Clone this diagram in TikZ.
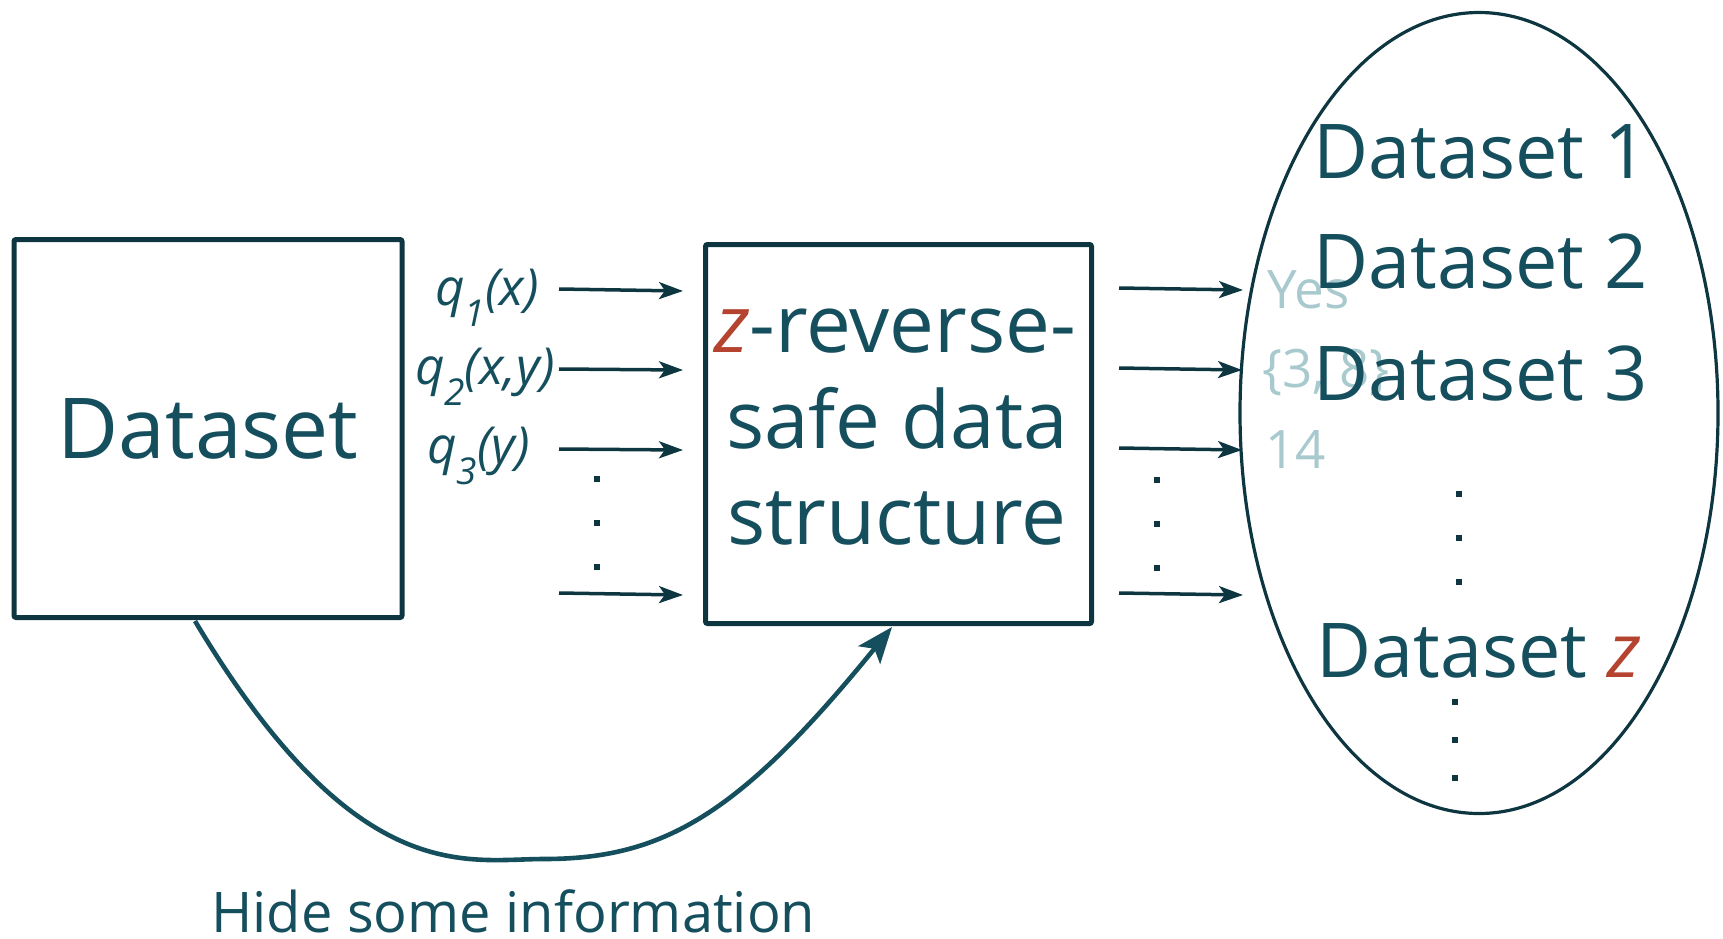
\documentclass[tikz,border=0pt]{standalone}
\usepackage{fontspec}
\setmainfont{Open Sans}
\usetikzlibrary{arrows.meta,shapes.geometric}

\definecolor{ink}{HTML}{154F5D}
\definecolor{rulec}{HTML}{0D3640}
\definecolor{accent}{HTML}{B4432F}
\definecolor{faded}{HTML}{A8C9CD}

% lowered index for the query names
\newcommand{\qidx}[1]{\raisebox{-10.5pt}{\fontsize{18.5}{18.5}\selectfont #1}}
\newcommand{\zvar}{\textcolor{accent}{\textit{z}}}

\begin{document}
\begin{tikzpicture}[x=0.5pt,y=-0.5pt,
  frame/.style={draw=rulec, line width=2.5pt, rounded corners=1pt, inner sep=0pt},
  bigtext/.style={text=ink, inner sep=0pt, font=\fontsize{42}{50}\selectfont},
  midtext/.style={text=ink, inner sep=0pt, anchor=base, font=\fontsize{40}{48}\selectfont},
  settext/.style={text=ink, inner sep=0pt, anchor=base west, font=\fontsize{37.8}{44}\selectfont},
  qlabel/.style={text=ink, inner sep=0pt, anchor=base east, font=\fontsize{25.5}{30}\selectfont\itshape},
  answer/.style={text=faded, inner sep=0pt, anchor=base west, font=\fontsize{26.5}{32}\selectfont},
  query/.style={draw=rulec, line width=1.75pt, -{Stealth[length=12pt,width=8.5pt,inset=3pt]}},
  dotmark/.style={fill=rulec, minimum size=2.6pt, inner sep=0pt, draw=none, shape=rectangle},
  hide/.style={draw=ink, line width=2.3pt, -{Stealth[length=18pt,width=14pt,inset=4pt]}}
]
\useasboundingbox (0,0) rectangle (1723,938);

% source data set
\node[frame, bigtext, minimum width=194pt, minimum height=189pt] (ds) at (208,428.5) {Dataset};

% the protected structure
\node[frame, minimum width=193pt, minimum height=189.5pt] (sds) at (898.5,434) {};
\node[midtext] (sdsA) at (895,352) {\zvar-reverse-};
\node[midtext] (sdsB) at (897,448) {safe data};
\node[midtext] (sdsC) at (897,544) {structure};

% collection of candidate data sets
\node[draw=rulec, line width=1.6pt, shape=ellipse, minimum width=239pt, minimum height=400.5pt, inner sep=0pt] (coll) at (1479,413) {};

% answers returned by the structure
\node[answer] (ansA) at (1267,308) {Yes};
\node[answer] (ansB) at (1262,387) {\{3, 8\}};
\node[answer] (ansC) at (1265,468) {14};

\node[settext] (setA) at (1313,178) {Dataset 1};
\node[settext] (setB) at (1313,288) {Dataset 2};
\node[settext] (setC) at (1313,400) {Dataset 3};
\node[settext] (setZ) at (1316,677) {Dataset \zvar};

% query labels
\node[qlabel] (qA) at (539,305) {q\qidx{1}(x)};
\node[qlabel] (qB) at (555,384) {q\qidx{2}(x,y)};
\node[qlabel] (qC) at (530,463) {q\qidx{3}(y)};

% query arrows into the structure
\coordinate (inA0) at (559,289);  \coordinate (inA1) at (683,291);
\coordinate (inB0) at (559,369);  \coordinate (inB1) at (683,370);
\coordinate (inC0) at (559,449);  \coordinate (inC1) at (683,450);
\coordinate (inD0) at (559,593);  \coordinate (inD1) at (683,595);
\draw[query] (inA0) -- (inA1);
\draw[query] (inB0) -- (inB1);
\draw[query] (inC0) -- (inC1);
\draw[query] (inD0) -- (inD1);

% answer arrows towards the collection
\coordinate (outA0) at (1119,288);  \coordinate (outA1) at (1243,290);
\coordinate (outB0) at (1119,368);  \coordinate (outB1) at (1242,370);
\coordinate (outC0) at (1119,448);  \coordinate (outC1) at (1242,450);
\coordinate (outD0) at (1119,593);  \coordinate (outD1) at (1243,595);
\draw[query] (outA0) -- (outA1);
\draw[query] (outB0) -- (outB1);
\draw[query] (outC0) -- (outC1);
\draw[query] (outD0) -- (outD1);

% vertical ellipses
\foreach \n/\x/\y in {l1/597/479, l2/597/523, l3/597/567,
                      r1/1157/480, r2/1157/524, r3/1157/568,
                      e1/1459/494, e2/1459/538, e3/1459/582,
                      f1/1455/702, f2/1455/740, f3/1455/778}
  \node[dotmark] (dot\n) at (\x,\y) {};

% hiding step
\coordinate (hideA) at (195,621);
\coordinate (hideM) at (544,859);
\coordinate (hideB) at (892,627);
\draw[hide] (hideA) .. controls (356,890) and (466,859) .. (hideM)
                    .. controls (664,859) and (740,814) .. (hideB);
\node[text=ink, inner sep=0pt, anchor=base west, font=\fontsize{28}{34}\selectfont] (hidelbl) at (211,932) {Hide some information};
\end{tikzpicture}
\end{document}
